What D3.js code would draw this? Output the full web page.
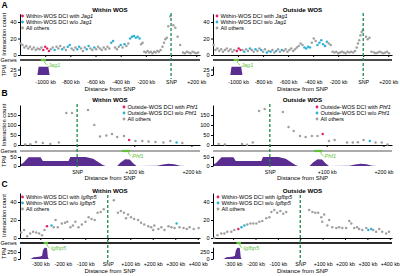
<!DOCTYPE html>
<html>
<head>
<meta charset="utf-8">
<script src="https://cdn.jsdelivr.net/npm/d3@7"></script>
<style>
body { margin: 0; background: #fff; }
svg { display: block; font-family: "Liberation Sans", Arial, sans-serif; }
</style>
</head>
<body>
<div id="chart"></div>
<script>
// points: [distance from SNP (kb), interaction count, group]  group 0 = all others, 1 = DCI with gene, 2 = DCI w/o gene
const jag1Within = [
  [-1195,14,0],[-1180,12,0],[-1165,9,0],[-1150,11,0],[-1135,8,0],[-1120,10,0],[-1105,7,0],[-1090,9,0],[-1075,6,0],[-1060,8,0],[-1045,7,0],[-1030,9,0],
  [-1015,6,1],[-1000,10,1],[-985,8,1],[-970,5,1],
  [-955,7,0],[-940,9,0],[-925,6,2],[-910,10,0],[-895,8,0],[-880,11,0],[-865,7,2],[-850,9,0],[-835,6,0],[-820,10,2],[-805,12,2],[-790,8,0],
  [-775,6,0],[-760,9,0],[-745,7,2],[-730,10,2],[-715,8,0],[-700,5,0],[-685,9,0],[-670,7,2],[-655,11,2],[-640,8,0],[-625,6,0],[-610,9,2],
  [-595,7,0],[-580,10,0],[-565,8,0],[-550,6,0],[-535,9,0],[-520,7,0],[-505,10,0],[-490,8,0],
  [-475,15,2],[-460,17,2],[-445,9,0],[-430,7,0],[-415,10,0],[-400,12,2],[-385,9,0],[-370,13,2],[-355,11,0],[-340,14,0],
  [-325,20,2],[-310,22,2],[-295,23,2],[-280,21,2],[-265,22,2],[-250,20,2],[-238,13,0],[-226,15,0],
  [-213,4,0],[-200,3,0],[-187,5,0],[-174,3,0],[-161,4,0],[-148,2,0],[-135,4,0],[-122,3,0],[-109,5,0],[-96,4,0],[-83,6,0],
  [-68,10,0],[-56,15,0],[-45,19,0],[-34,21,0],[-22,35,0],[-6,47,0],
  [18,36,0],[34,33,0],[52,22,0],[72,12,0],
  [95,3,0],[110,2,0],[125,4,0],[140,3,0],[155,2,0],[170,4,0],[185,3,0],[200,2,0],[215,3,0]
];
const jag1Outside = [
  [-1195,12,0],[-1180,6,0],[-1165,8,0],[-1150,5,0],[-1135,7,0],[-1120,4,0],[-1105,6,0],[-1090,8,0],[-1075,5,0],[-1060,7,0],[-1045,4,0],[-1030,6,0],
  [-1010,5,1],[-995,8,1],[-980,6,1],
  [-965,6,0],[-950,4,2],[-935,7,0],[-920,5,0],[-905,8,2],[-890,6,0],[-875,4,0],[-860,7,2],[-845,5,0],[-830,8,0],[-815,6,2],[-800,4,0],
  [-785,7,0],[-770,3,2],[-755,5,0],[-740,4,2],[-725,6,0],[-710,3,0],[-695,5,2],[-680,7,0],[-665,4,0],[-650,6,2],[-635,5,0],[-620,7,0],
  [-605,4,0],[-590,6,0],[-575,8,0],[-560,5,0],[-545,7,0],[-530,9,0],
  [-515,11,0],[-500,14,0],[-485,12,0],[-470,9,2],[-455,8,2],[-440,10,2],[-425,9,2],[-410,15,0],[-395,20,0],[-380,17,0],
  [-365,12,2],[-350,15,2],[-335,18,2],[-320,13,2],[-305,11,2],[-290,16,2],[-275,14,0],[-260,12,0],
  [-245,4,0],[-230,3,0],[-215,4,0],[-200,2,0],[-185,3,0],[-170,4,0],[-155,3,0],[-140,2,0],[-125,4,0],[-110,3,0],[-95,4,0],[-80,3,0],[-65,5,0],
  [-52,9,0],[-42,14,0],[-32,18,0],[-22,24,0],[-12,28,0],[-2,30,0],
  [22,22,0],[36,19,0],[50,21,0],[66,4,0],[86,3,0],[101,2,0],[116,3,0],[131,4,0],[146,3,0],[161,2,0],[176,3,0],[191,4,0],[206,2,0]
];
const phf1Within = [
  [-91,2,0],[-82,4,0],[-72,15,0],[-60,10,0],[-47,5,0],[-32,12,0],[-19,160,0],[-9,160,0],[19,175,0],[30,100,0],[40,42,0],[51,47,0],
  [61,55,0],[70,40,0],[82,45,0],[91,25,1],[102,20,0],[114,20,0],[125,18,0],[137,15,0],[151,13,0],[163,20,0],[174,12,2],[184,10,0]
];
const phf1Outside = [
  [-90,5,0],[-79,2,0],[-49,5,0],[-40,1,0],[-30,12,0],[-19,170,0],[-9,180,0],[23,165,0],[33,90,0],[42,70,0],[53,45,0],[63,40,0],
  [74,45,0],[84,45,0],[93,55,1],[104,20,0],[114,25,0],[136,12,0],[146,12,0],[155,14,0],[165,25,0],[176,20,2],[186,12,0],[197,12,0],[207,2,0]
];
const igfWithin = [
  [-385,6,0],[-372,9,0],[-358,2,0],[-345,5,0],[-332,7,0],[-318,6,0],[-305,5,0],[-292,3,0],[-281,9,0],[-270,13,1],[-250,14,2],[-240,12,0],
  [-232,20,0],[-222,12,0],[-204,16,0],[-190,17,0],[-180,18,0],[-166,12,0],[-155,14,0],[-144,18,0],[-130,12,0],[-115,15,0],[-99,18,0],
  [-85,23,0],[-72,21,0],[-58,20,0],[-45,28,0],[-31,29,0],[-18,32,0],
  [27,42,0],[45,28,0],[58,30,0],[72,28,0],[81,22,0],[90,26,0],[103,23,0],[117,21,0],[135,20,0],[148,17,0],[162,15,0],[180,13,0],
  [193,12,0],[202,9,0],[207,14,0],[225,10,0],[238,12,0],[252,9,0],[270,13,0],[283,12,0],[297,11,0],[306,16,2],[319,12,0],[337,11,0],
  [351,10,0],[364,12,0],[382,10,0],[404,11,0]
];
const igfOutside = [
  [-384,0,0],[-370,3,0],[-353,5,0],[-339,5,0],[-326,7,0],[-308,7,0],[-295,9,0],[-277,10,1],[-263,12,2],[-250,14,2],[-237,15,0],[-223,16,0],
  [-210,16,0],[-196,16,0],[-183,18,0],[-170,19,0],[-152,22,0],[-138,23,0],[-129,29,0],[-116,31,0],[-103,28,0],[-89,30,0],[-76,27,0],[-63,29,0],
  [40,31,0],[54,29,0],[67,28,0],[80,28,0],[94,23,0],[98,18,0],[107,26,0],[121,14,0],[129,20,0],[143,12,0],[161,11,0],[174,12,0],
  [188,11,0],[205,11,0],[219,19,0],[228,16,0],[241,11,0],[254,12,0],[263,10,0],[277,9,0],[295,11,0],[304,9,2],[317,10,2],[326,9,0],
  [339,7,0],[353,10,0],[366,7,0],[384,5,0],[397,7,0]
];

// expression tracks: [kb, TPM]
const jag1Tpm = [[-1062,0],[-1052,38],[-975,38],[-965,0]];
const phf1Tpm = [[-103,5],[-95,15],[-85,48],[-64,48],[-60,28],[-15,28],[-12,50],[15,50],[28,40],[45,5],[50,0],[70,0],[76,20],[84,38],
  [92,36],[98,15],[104,0],[140,2],[150,8],[160,12],[170,10],[180,2],[190,0],[222,0]];
const igfTpm = [[-345,0],[-338,20],[-330,60],[-315,70],[-300,90],[-292,120],[-288,300],[-282,390],[-275,400],[-270,380],[-266,60],[-262,0]];

// gene positions (kb)
const jag1Gene = [-1035, -995];
const phf1Gene = [78, 92];
const igfGene = [-285, -265];

const jag1Ticks = [-1000, -800, -600, -400, -200, 0, 200];
const phf1Ticks = [0, 100, 200];
const igfTicks = [-300, -200, -100, 0, 100, 200, 300, 400];

const panelTitles = ["Within WOS", "Outside WOS"];
const jag1Legend = ["Within-WOS DCI with ", "Within-WOS DCI w/o ", "All others"];
const phf1Legend = ["Outside-WOS DCI with ", "Outside-WOS DCI w/o ", "All others"];
const igfLegend = ["Within-WOS DCI with ", "Within-WOS DCI w/o ", "All others"];

const colors = ["#a0a0a0", "#e2206c", "#2cb2d6"];
const snpGreen = "#1b8a4c";
const geneGreen = "#62c13a";
const purple = "#5a2d91";

const svg = d3.select("#chart").append("svg")
  .attr("width", 400)
  .attr("height", 276);

const cols = [{ x0: 20, x1: 200 }, { x0: 213, x1: 392 }];

const rows = [
  {
    letter: "A", letterY: 7.5, titleY: 12,
    xDomains: [[-1200, 230], [-1200, 230]], ticks: jag1Ticks,
    yDomain: [0, 50], yRange: [55, 13.75], yTicks: [0, 20, 40],
    geneY: 60, geneColor: "#4a4a4a", gene: jag1Gene, geneName: "Jag1",
    tpmDomain: [0, 40], tpmRange: [75, 66.2], tpmTicks: [0, 25], tpm: jag1Tpm,
    tickBase: 83.5, axisTitleY: 90.5, dash: [13, 79],
    data: [jag1Within, jag1Outside], legend: jag1Legend,
    legendPos: [[22.5, 16], [217, 16]]
  },
  {
    letter: "B", letterY: 96, titleY: 102,
    xDomains: [[-100, 215], [-100, 215]], ticks: phf1Ticks,
    yDomain: [0, 200], yRange: [145, 105], yTicks: [0, 50, 100, 150],
    geneY: 151, geneColor: "#ababab", gene: phf1Gene, geneName: "Phf1",
    tpmDomain: [0, 55], tpmRange: [166, 156.1], tpmTicks: [0, 50], tpm: phf1Tpm,
    tickBase: 173.5, axisTitleY: 179.5, dash: [104, 167],
    data: [phf1Within, phf1Outside], legend: phf1Legend,
    legendPos: [[124, 107], [317, 107]]
  },
  {
    letter: "C", letterY: 186.5, titleY: 193,
    xDomains: [[-390, 410], [-390, 410]], ticks: igfTicks,
    yDomain: [0, 50], yRange: [238, 193], yTicks: [0, 20, 40],
    geneY: 243, geneColor: "#2a2a2a", gene: igfGene, geneName: "Igfbp5",
    tpmDomain: [0, 420], tpmRange: [259, 247.2], tpmTicks: [0, 250], tpm: igfTpm,
    tickBase: 265.5, axisTitleY: 272.5, dash: [195, 262],
    data: [igfWithin, igfOutside], legend: igfLegend,
    legendPos: [[22.5, 197], [218, 197]]
  }
];

function fmtKb(d) {
  if (d === 0) return "SNP";
  return d > 0 ? "+" + d + " kb" : d + " kb";
}

const tickFs = 5.3;

rows.forEach((row, ri) => {
  svg.append("text")
    .attr("x", 1.5)
    .attr("y", row.letterY)
    .attr("font-size", "8.5px")
    .attr("font-weight", "bold")
    .text(row.letter);

  cols.forEach((col, ci) => {
    const x = d3.scaleLinear().domain(row.xDomains[ci]).range([col.x0, col.x1]);
    const y = d3.scaleLinear().domain(row.yDomain).range(row.yRange);
    const t = d3.scaleLinear().domain(row.tpmDomain).range(row.tpmRange);
    const g = svg.append("g");

    const clipId = "clip" + ri + ci;
    svg.append("clipPath").attr("id", clipId)
      .append("rect")
      .attr("x", col.x0).attr("y", 0)
      .attr("width", col.x1 - col.x0).attr("height", 276);

    // panel title
    g.append("text")
      .attr("x", (col.x0 + col.x1) / 2)
      .attr("y", row.titleY)
      .attr("text-anchor", "middle")
      .attr("font-size", "6.2px")
      .attr("font-weight", "bold")
      .text(panelTitles[ci]);

    // TPM area
    g.append("path")
      .datum(row.tpm)
      .attr("clip-path", `url(#${clipId})`)
      .attr("fill", purple)
      .attr("d", d3.area()
        .x((d) => x(d[0]))
        .y0(t(0))
        .y1((d) => t(d[1])));

    // gene track
    g.append("line")
      .attr("x1", col.x0).attr("x2", col.x1)
      .attr("y1", row.geneY).attr("y2", row.geneY)
      .attr("stroke", row.geneColor)
      .attr("stroke-width", 2);

    const gx = x(row.gene[1]);
    g.append("line")
      .attr("x1", x(row.gene[0])).attr("x2", gx)
      .attr("y1", row.geneY).attr("y2", row.geneY)
      .attr("stroke", geneGreen)
      .attr("stroke-width", 2.2);
    g.append("path")
      .attr("d", `M${gx - 1},${row.geneY + 1} L${gx - 1},${row.geneY + 3} L${gx + 1.5},${row.geneY + 5}`)
      .attr("fill", "none")
      .attr("stroke", geneGreen)
      .attr("stroke-width", 0.7);
    g.append("text")
      .attr("x", gx + 2.5)
      .attr("y", row.geneY + 6.5)
      .attr("font-size", "5.6px")
      .attr("font-style", "italic")
      .attr("fill", geneGreen)
      .text(row.geneName);

    // interaction axes
    const yAxis = g.append("g")
      .attr("transform", `translate(${col.x0},0)`)
      .call(d3.axisLeft(y).tickValues(row.yTicks).tickSize(2).tickSizeOuter(0).tickPadding(1.5));
    yAxis.selectAll("text").attr("font-size", "5.6px").attr("font-family", null);

    g.append("g")
      .attr("transform", `translate(0,${row.yRange[0]})`)
      .call(d3.axisBottom(x).tickValues(row.ticks).tickSize(2).tickSizeOuter(0).tickFormat(""))
      .select(".domain").attr("stroke-width", 1);

    // TPM axis
    const tAxis = g.append("g")
      .attr("transform", `translate(${col.x0},0)`)
      .call(d3.axisLeft(t).tickValues(row.tpmTicks).tickSize(2).tickSizeOuter(0).tickPadding(1.5));
    tAxis.selectAll("text").attr("font-size", "5.6px").attr("font-family", null);

    // distance labels
    const lab = g.append("g")
      .attr("transform", `translate(0,${row.tickBase - 0.71 * tickFs})`)
      .call(d3.axisBottom(x).tickValues(row.ticks).tickSize(0).tickPadding(0).tickFormat(fmtKb));
    lab.select(".domain").remove();
    lab.selectAll("text").attr("font-size", tickFs + "px").attr("font-family", null);

    g.append("text")
      .attr("x", (col.x0 + col.x1) / 2)
      .attr("y", row.axisTitleY)
      .attr("text-anchor", "middle")
      .attr("font-size", "6px")
      .text("Distance from SNP");

    // points
    g.selectAll("circle.pt")
      .data(row.data[ci])
      .join("circle")
      .attr("class", "pt")
      .attr("cx", (d) => x(d[0]))
      .attr("cy", (d) => y(d[1]))
      .attr("r", 1.25)
      .attr("fill", (d) => colors[d[2]]);

    // SNP line
    g.append("line")
      .attr("x1", x(0)).attr("x2", x(0))
      .attr("y1", row.dash[0]).attr("y2", row.dash[1])
      .attr("stroke", snpGreen)
      .attr("stroke-width", 1.3)
      .attr("stroke-dasharray", "3,2");

    // legend
    const [lx, ly] = row.legendPos[ci];
    const legendOrder = [1, 2, 0];
    legendOrder.forEach((grp, i) => {
      g.append("circle")
        .attr("cx", lx)
        .attr("cy", ly + i * 6)
        .attr("r", 1.4)
        .attr("fill", colors[grp]);
      const txt = g.append("text")
        .attr("x", lx + 3.5)
        .attr("y", ly + i * 6 + 2)
        .attr("font-size", "5.6px");
      txt.append("tspan").text(row.legend[i]);
      if (i < 2) txt.append("tspan").attr("font-style", "italic").text(row.geneName);
    });

    // row labels on the left panels only
    if (ci === 0) {
      g.append("text")
        .attr("transform", `translate(6,${(row.yRange[0] + row.yRange[1]) / 2}) rotate(-90)`)
        .attr("text-anchor", "middle")
        .attr("font-size", "5.8px")
        .text("Interaction count");
      g.append("text")
        .attr("x", 0.5)
        .attr("y", row.geneY + 2)
        .attr("font-size", "5.5px")
        .text("Genes");
      g.append("text")
        .attr("transform", `translate(6,${(row.tpmRange[0] + row.tpmRange[1]) / 2}) rotate(-90)`)
        .attr("text-anchor", "middle")
        .attr("font-size", "5.3px")
        .text("TPM");
    }
  });
});
</script>
</body>
</html>
